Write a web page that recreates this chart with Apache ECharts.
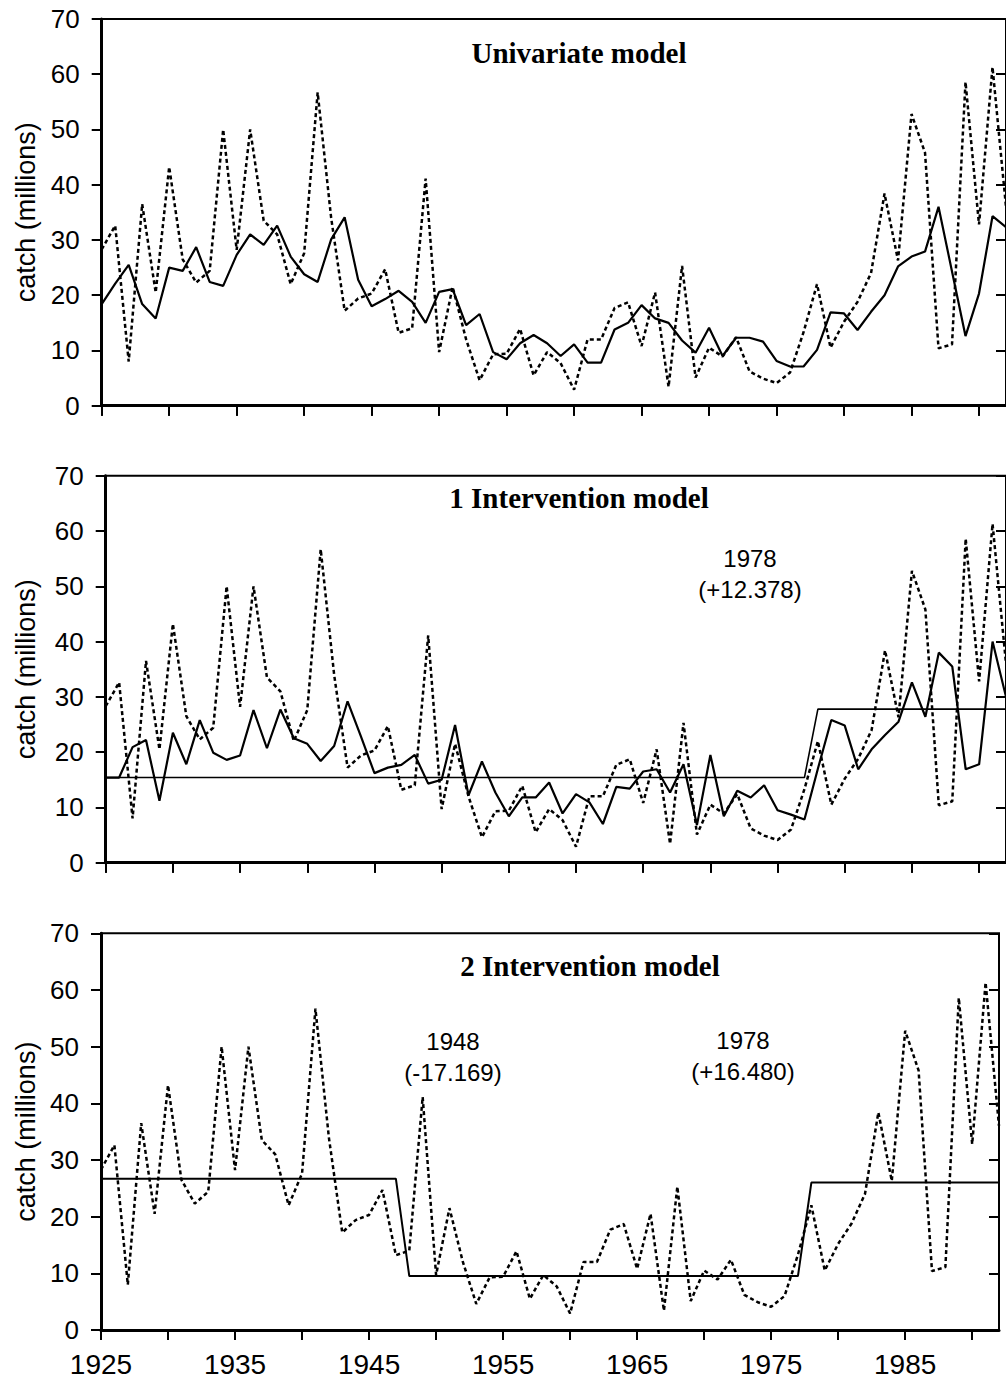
<!DOCTYPE html>
<html>
<head>
<meta charset="utf-8">
<script src="https://cdn.jsdelivr.net/npm/echarts@6/dist/echarts.min.js"></script>
<style>
html,body{margin:0;padding:0;background:#fff;}
#chart{width:1006px;height:1389px;}
</style>
</head>
<body>
<div id="chart"></div>
<script>
// ---------------- DATA ----------------
const years = [1925,1926,1927,1928,1929,1930,1931,1932,1933,1934,1935,1936,1937,1938,1939,1940,1941,1942,1943,1944,1945,1946,1947,1948,1949,1950,1951,1952,1953,1954,1955,1956,1957,1958,1959,1960,1961,1962,1963,1964,1965,1966,1967,1968,1969,1970,1971,1972,1973,1974,1975,1976,1977,1978,1979,1980,1981,1982,1983,1984,1985,1986,1987,1988,1989,1990,1991,1992];

// observed catch (dotted line, same in all panels)
const observedCatch = [28.3,32.6,8.0,36.5,20.5,43.2,26.5,22.3,24.4,50.0,28.2,50.0,33.5,31.0,22.0,27.6,56.7,34.0,17.2,19.4,20.3,24.7,13.2,14.0,41.1,9.7,21.5,12.0,4.6,9.3,9.4,13.9,5.5,9.7,7.7,2.9,12.0,12.0,17.7,18.7,10.8,20.5,3.4,25.3,5.1,10.5,8.9,12.4,6.2,4.9,4.1,6.0,13.3,22.0,10.5,15.2,18.8,24.0,38.4,26.3,52.8,45.8,10.4,11.1,58.6,32.8,61.3,36.0];

// univariate model fit (solid line, panel 1)
const univariateFit = [18.4,22.1,25.5,18.4,15.8,25.0,24.4,28.7,22.4,21.7,27.3,31.0,29.1,32.6,27.0,23.8,22.4,30.1,34.1,22.8,18.0,19.3,20.8,18.8,15.0,20.6,21.1,14.6,16.6,9.7,8.4,11.3,12.8,11.3,9.0,11.1,7.8,7.8,13.8,15.0,18.2,15.8,15.0,11.8,9.6,14.1,9.0,12.3,12.3,11.6,8.1,7.1,7.1,10.1,16.9,16.7,13.7,17.0,20.0,25.2,27.0,27.9,36.0,24.3,12.6,20.3,34.3,32.3];

// 1 intervention model fit (solid line, panel 2)
const oneInterventionFit = [15.4,15.4,20.9,22.2,11.2,23.5,17.8,25.8,19.9,18.6,19.4,27.6,20.7,27.7,22.5,21.5,18.4,21.1,29.2,22.8,16.2,17.2,17.7,19.5,14.3,15.0,24.9,12.2,18.3,12.7,8.4,11.8,11.8,14.5,8.9,12.4,10.9,7.0,13.7,13.4,16.5,16.9,12.7,17.8,6.8,19.5,8.4,13.0,11.8,14.0,9.5,8.7,7.8,17.0,25.8,24.8,16.9,20.5,23.1,25.5,32.6,26.4,38.0,35.5,16.9,17.8,40.0,30.0];

// 1 intervention level (step, panel 2): 1978 (+12.378)
const oneInterventionLevel = [15.4,15.4,15.4,15.4,15.4,15.4,15.4,15.4,15.4,15.4,15.4,15.4,15.4,15.4,15.4,15.4,15.4,15.4,15.4,15.4,15.4,15.4,15.4,15.4,15.4,15.4,15.4,15.4,15.4,15.4,15.4,15.4,15.4,15.4,15.4,15.4,15.4,15.4,15.4,15.4,15.4,15.4,15.4,15.4,15.4,15.4,15.4,15.4,15.4,15.4,15.4,15.4,15.4,27.78,27.78,27.78,27.78,27.78,27.78,27.78,27.78,27.78,27.78,27.78,27.78,27.78,27.78,27.78,27.78];

// 2 intervention level (step, panel 3): 1948 (-17.169), 1978 (+16.480)
const twoInterventionLevel = [26.7,26.7,26.7,26.7,26.7,26.7,26.7,26.7,26.7,26.7,26.7,26.7,26.7,26.7,26.7,26.7,26.7,26.7,26.7,26.7,26.7,26.7,26.7,9.53,9.53,9.53,9.53,9.53,9.53,9.53,9.53,9.53,9.53,9.53,9.53,9.53,9.53,9.53,9.53,9.53,9.53,9.53,9.53,9.53,9.53,9.53,9.53,9.53,9.53,9.53,9.53,9.53,9.53,26.01,26.01,26.01,26.01,26.01,26.01,26.01,26.01,26.01,26.01,26.01,26.01,26.01,26.01,26.01,26.01];

const xTickYears = [1925,1930,1935,1940,1945,1950,1955,1960,1965,1970,1975,1980,1985,1990];
const xLabelYears = [1925,1935,1945,1955,1965,1975,1985];
const yTickValues = [0,10,20,30,40,50,60,70];
const yAxisTitle = 'catch (millions)';
const panelTitles = ['Univariate model', '1 Intervention model', '2 Intervention model'];
const annotationTexts = ['1978\n(+12.378)', '1948\n(-17.169)', '1978\n(+16.480)'];

// ---------------- LAYOUT / STYLE ----------------
const SANS = '"Liberation Sans", Arial, sans-serif';
const SERIF = '"Liberation Serif", "Times New Roman", serif';
const grids = [
  {left: 101.7, top: 19, width: 910.6, height: 386.7},
  {left: 105.7, top: 475.7, width: 907.3, height: 387},
  {left: 101, top: 933.3, width: 898, height: 396.7}
];
const nameGaps = [62, 66, 62];

const pair = (arr) => years.map((y, i) => [y, arr[i]]);

const option = {
  backgroundColor: '#fff',
  animation: false,
  grid: grids.map(g => Object.assign({show: true, borderColor: '#000', borderWidth: 2, backgroundColor: 'transparent'}, g)),
  xAxis: [],
  yAxis: [],
  series: [],
  graphic: []
};

grids.forEach((g, i) => {
  option.xAxis.push({
    type: 'value', gridIndex: i, min: 1925, max: 1992,
    axisLine: {show: true, onZero: false, lineStyle: {color: '#000', width: 3}},
    axisTick: {show: true, customValues: xTickYears, length: 10, lineStyle: {color: '#000', width: 2}},
    axisLabel: {show: i === 2, customValues: xLabelYears, fontSize: 28, color: '#000', fontFamily: SANS, margin: 20,
      formatter: (v) => String(v)},
    splitLine: {show: false}
  });
  option.xAxis.push({
    type: 'value', gridIndex: i, min: 1925, max: 1992,
    axisLine: {show: false},
    axisTick: {show: true, inside: true, customValues: xTickYears, length: 10, lineStyle: {color: '#000', width: 2}},
    axisLabel: {show: false},
    splitLine: {show: false}
  });
  option.yAxis.push({
    type: 'value', gridIndex: i, min: 0, max: 70, interval: 10,
    name: yAxisTitle, nameLocation: 'middle', nameGap: nameGaps[i], nameRotate: 90,
    nameTextStyle: {fontSize: 27, color: '#000', fontFamily: SANS},
    axisLine: {show: true, onZero: false, lineStyle: {color: '#000', width: 3}},
    axisTick: {show: true, customValues: yTickValues, length: 10, lineStyle: {color: '#000', width: 2}},
    axisLabel: {fontSize: 26, color: '#000', fontFamily: SANS, margin: 22},
    splitLine: {show: false}
  });
  option.yAxis.push({
    type: 'value', gridIndex: i, min: 0, max: 70, interval: 10,
    axisLine: {show: false},
    axisTick: {show: true, inside: true, customValues: yTickValues, length: 10, lineStyle: {color: '#000', width: 2}},
    axisLabel: {show: false},
    splitLine: {show: false}
  });
});

function addLine(panel, data, style, z) {
  option.series.push({
    type: 'line', xAxisIndex: panel * 2, yAxisIndex: panel * 2,
    data: pair(data), symbol: 'none', showSymbol: false, silent: true, z: z,
    lineStyle: Object.assign({color: '#000'}, style)
  });
}
const dotted = {width: 2.5, type: [4, 3]};
addLine(0, observedCatch, dotted, 2);
addLine(0, univariateFit, {width: 2.2}, 3);
addLine(1, observedCatch, dotted, 2);
addLine(1, oneInterventionLevel, {width: 1.6}, 3);
addLine(1, oneInterventionFit, {width: 2.2}, 4);
addLine(2, observedCatch, dotted, 2);
addLine(2, twoInterventionLevel, {width: 2}, 3);

const titlePos = [[579, 53], [579, 498], [590, 966]];
panelTitles.forEach((t, i) => {
  option.graphic.push({
    type: 'text', x: titlePos[i][0], y: titlePos[i][1], z: 100,
    style: {text: t, font: 'bold 29px ' + SERIF, fill: '#000', textAlign: 'center', textVerticalAlign: 'middle'}
  });
});
const annPos = [[750, 574], [453, 1057], [743, 1056]];
annotationTexts.forEach((t, i) => {
  option.graphic.push({
    type: 'text', x: annPos[i][0], y: annPos[i][1], z: 100,
    style: {text: t, font: '24px ' + SANS, fill: '#000', textAlign: 'center', textVerticalAlign: 'middle', lineHeight: 31}
  });
});

const chart = echarts.init(document.getElementById('chart'), null, {renderer: 'svg'});
chart.setOption(option);
</script>
</body>
</html>
